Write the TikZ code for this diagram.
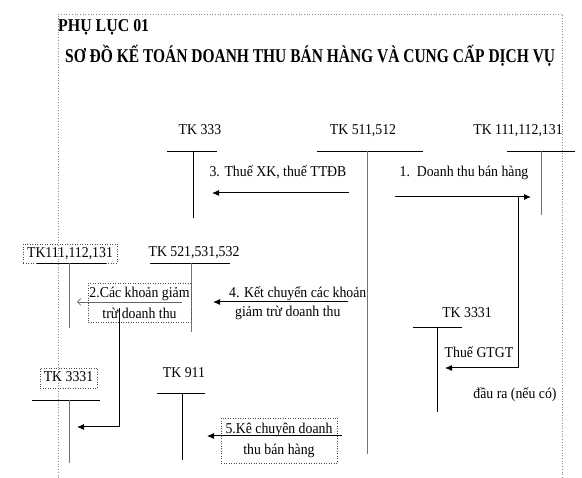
\documentclass[tikz,border=0pt]{standalone}
\usepackage{fontspec}
\setmainfont{Liberation Serif}[FakeStretch=0.92]
\usepackage{graphicx}
\usetikzlibrary{arrows.meta}
\tikzset{
  txt/.style={font=\fontsize{15}{21}\selectfont, inner sep=0pt, anchor=base},
  tline/.style={line width=0.9pt, black},
  gline/.style={line width=0.9pt, black!55},
  arr/.style={line width=1pt, -{Latex[length=7pt,width=6pt]}},
  thinarr/.style={line width=0.7pt, black!60, -{Straight Barb[length=3.5pt,width=7pt]}},
  dotbox/.style={draw=black!70, dotted, line width=0.5pt, inner sep=1pt,
    font=\fontsize{15}{21}\selectfont, align=center},
  frameline/.style={draw=black!45, dotted, line width=0.7pt},
}
\begin{document}
\begin{tikzpicture}[x=1pt,y=-1pt]
\useasboundingbox (0,0) rectangle (582,478);
\fill[white] (0,0) rectangle (582,478);
\draw[frameline] (58,478) -- (58,14) -- (562,14) -- (562,478);

% titles
\node[anchor=base west, inner sep=0pt] (ph) at (58,32)
  {\resizebox{91pt}{\height}{\fontsize{18}{18}\selectfont\bfseries PHỤ LỤC 01}};
\node[anchor=base west, inner sep=0pt] (title) at (65,63)
  {\resizebox{490pt}{\height}{\fontsize{19.5}{19.5}\selectfont\bfseries SƠ ĐỒ KẾ TOÁN DOANH THU BÁN HÀNG VÀ CUNG CẤP DỊCH VỤ}};

% TK 333
\node[txt] (tk333) at (200,135) {TK 333};
\draw[tline] (167,151) -- (217,151);
\draw[tline] (193,151) -- (193,218);

% TK 511,512
\node[txt] (tk511) at (363,135) {TK 511,512};
\draw[tline] (317,151) -- (423,151);
\draw[gline] (367,151) -- (367,454);

% TK 111,112,131 (right)
\node[txt] (tk111r) at (518,135) {TK 111,112,131};
\draw[tline] (507,151) -- (575,151);
\draw[gline] (541,151) -- (541,215);

% arrow 3
\coordinate (a3s) at (349,193);
\coordinate (a3e) at (212,193);
\draw[arr] (a3s) -- (a3e);
\node[txt] (l3) at (278,177) {3. Thuế XK, thuế TTĐB};

% arrow 1
\coordinate (a1s) at (395,197);
\coordinate (a1e) at (531,197);
\draw[arr] (a1s) -- (a1e);
\node[txt] (l1) at (464,177) {1.\ \ Doanh thu bán hàng};

% Thue GTGT
\coordinate (g1) at (518,197);
\coordinate (g2) at (445,368);
\draw[arr] (g1) |- (g2);
\node[txt] (tk3331r) at (467,318) {TK 3331};
\draw[tline] (413,327) -- (462,327);
\draw[tline] (437,327) -- (437,412);
\node[txt] (gt) at (479,358) {Thuế GTGT};
\node[txt] (dr) at (515,399) {đầu ra (nếu có)};

% TK111,112,131 (left)
\node[dotbox, minimum width=94pt, minimum height=19pt, text height=11pt, text depth=3pt] (tk111l) at (70,253.5) {TK111,112,131};
\draw[tline] (37,263) -- (106,263);
\draw[gline] (69,263) -- (69,328);

% TK 521,531,532
\node[txt] (tk521) at (194,257) {TK 521,531,532};
\draw[tline] (150,263) -- (230,263);
\draw[gline] (191,263) -- (191,332);

% box 2
\node[dotbox, minimum width=103pt, minimum height=39pt] (b2) at (139.5,302.5) {2.Các khoản giảm\\trừ doanh thu};
\coordinate (a2s) at (182,302);
\coordinate (a2e) at (77,302);
\draw[thinarr] (a2s) -- (a2e);
\coordinate (v2s) at (119,308);
\coordinate (v2e) at (77,427);
\draw[arr] (v2s) |- (v2e);

% arrow 4
\coordinate (a4s) at (348,302);
\coordinate (a4e) at (213,302);
\draw[arr] (a4s) -- (a4e);
\node[txt, anchor=base west] (l4a) at (229,298) {4. Kết chuyển các khoản};
\node[txt, anchor=base west] (l4b) at (235,317) {giảm trừ doanh thu};

% TK 3331 (left)
\node[dotbox, minimum width=57pt, minimum height=20pt, text height=11pt, text depth=3pt] (tk3331l) at (68.5,378) {TK 3331};
\draw[tline] (32,400) -- (100,400);
\draw[gline] (69,400) -- (69,463);

% TK 911
\node[txt] (tk911) at (184,378) {TK 911};
\draw[tline] (157,393) -- (205,393);
\draw[tline] (182,393) -- (182,460);

% box 5
\node[dotbox, minimum width=116pt, minimum height=45pt] (b5) at (279,440.5) {5.Kê chuyên doanh\\thu bán hàng};
\coordinate (a5s) at (342,436);
\coordinate (a5e) at (207,436);
\draw[arr] (a5s) -- (a5e);
\end{tikzpicture}
\end{document}
